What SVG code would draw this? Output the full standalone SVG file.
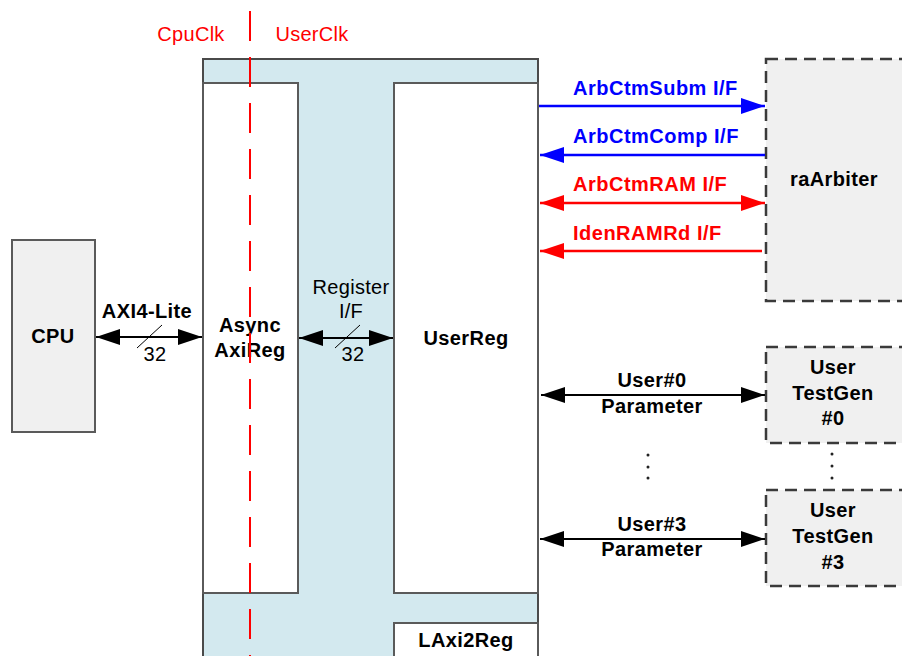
<svg xmlns="http://www.w3.org/2000/svg" width="902" height="656" viewBox="0 0 902 656">
<style>
.box{fill:#ffffff;stroke:#5a5a5a;stroke-width:2}
.gray{fill:#f0f0f0;stroke:#5a5a5a;stroke-width:2}
.dash{fill:#f0f0f0;stroke:#3a3a3a;stroke-width:2.5;stroke-dasharray:12,7}
.lbl{font-family:"Liberation Sans",Arial,sans-serif;font-size:20px;font-weight:bold;fill:#000;text-anchor:middle;letter-spacing:0.4px}
.nl{font-family:"Liberation Sans",Arial,sans-serif;font-size:20px;fill:#000;text-anchor:middle;letter-spacing:0.3px}
.clk{font-family:"Liberation Sans",Arial,sans-serif;font-size:20px;fill:#ff0000;text-anchor:middle;letter-spacing:0.3px}
.blue{font-family:"Liberation Sans",Arial,sans-serif;font-size:20px;font-weight:bold;fill:#0000ff;letter-spacing:0.5px}
.red{font-family:"Liberation Sans",Arial,sans-serif;font-size:20px;font-weight:bold;fill:#ff0000;letter-spacing:0.5px}
.k{stroke:#000;stroke-width:2;fill:none}
.b{stroke:#0000ff;stroke-width:2.5;fill:none}
.r{stroke:#ff0000;stroke-width:2.5;fill:none}
</style>
<defs>
<marker id="ak" viewBox="0 0 24 16" refX="24" refY="8" markerWidth="24" markerHeight="16" markerUnits="userSpaceOnUse" orient="auto-start-reverse"><path d="M0,0 L24,8 L0,16 z" fill="#000"/></marker>
<marker id="ab" viewBox="0 0 24 16" refX="24" refY="8" markerWidth="24" markerHeight="16" markerUnits="userSpaceOnUse" orient="auto-start-reverse"><path d="M0,0 L24,8 L0,16 z" fill="#0000ff"/></marker>
<marker id="ar" viewBox="0 0 24 16" refX="24" refY="8" markerWidth="24" markerHeight="16" markerUnits="userSpaceOnUse" orient="auto-start-reverse"><path d="M0,0 L24,8 L0,16 z" fill="#ff0000"/></marker>
</defs>

<g id="LAxi2Reg">
<rect x="203" y="59" width="335" height="610" fill="#d3e9ef" stroke="#4a4a4a" stroke-width="2"/>
<rect x="394" y="623" width="144" height="50" class="box"/>
<text x="466" y="647" class="lbl">LAxi2Reg</text>
</g>
<g id="AsyncAxiReg">
<rect x="203" y="83" width="95" height="510" class="box"/>
<text x="250" y="332" class="lbl">Async</text>
<text x="250" y="357" class="lbl">AxiReg</text>
</g>
<g id="UserReg">
<rect x="394" y="83" width="144" height="510" class="box"/>
<text x="466" y="345" class="lbl">UserReg</text>
</g>
<g id="CPU">
<rect x="12" y="240" width="83" height="192" class="gray"/>
<text x="53" y="343" class="lbl">CPU</text>
</g>
<g id="raArbiter">
<rect x="766" y="59" width="150" height="242" class="dash"/>
<text x="834" y="186" class="lbl">raArbiter</text>
</g>
<g id="UserTestGen0">
<rect x="766" y="347" width="150" height="96" class="dash"/>
<text x="833" y="374" class="lbl">User</text>
<text x="833" y="400" class="lbl">TestGen</text>
<text x="833" y="425" class="lbl">#0</text>
</g>
<g id="UserTestGen3">
<rect x="766" y="490" width="150" height="96" class="dash"/>
<text x="833" y="517" class="lbl">User</text>
<text x="833" y="543" class="lbl">TestGen</text>
<text x="833" y="569" class="lbl">#3</text>
</g>

<g id="clock">
<line x1="250" y1="11" x2="250" y2="656" stroke="#ff0000" stroke-width="2" stroke-dasharray="30,16"/>
<text x="191" y="41" class="clk">CpuClk</text>
<text x="312" y="41" class="clk">UserClk</text>
</g>

<g id="connectors">
<line x1="96" y1="337" x2="202" y2="337" class="k" marker-start="url(#ak)" marker-end="url(#ak)"/>
<line x1="137" y1="348" x2="162" y2="325" stroke="#000" stroke-width="1"/>
<text x="147" y="318" class="lbl">AXI4-Lite</text>
<text x="155" y="361" class="nl">32</text>

<line x1="299" y1="338" x2="393" y2="338" class="k" marker-start="url(#ak)" marker-end="url(#ak)"/>
<line x1="335" y1="348" x2="360" y2="325" stroke="#000" stroke-width="1"/>
<text x="351" y="294" class="nl">Register</text>
<text x="351" y="318" class="nl">I/F</text>
<text x="353" y="361" class="nl">32</text>

<line x1="539" y1="106" x2="765" y2="106" class="b" marker-end="url(#ab)"/>
<text x="573" y="95" class="blue">ArbCtmSubm I/F</text>
<line x1="765" y1="155" x2="540" y2="155" class="b" marker-end="url(#ab)"/>
<text x="573" y="143" class="blue">ArbCtmComp I/F</text>
<line x1="540" y1="203" x2="765" y2="203" class="r" marker-start="url(#ar)" marker-end="url(#ar)"/>
<text x="573" y="191" class="red">ArbCtmRAM I/F</text>
<line x1="762" y1="251" x2="540" y2="251" class="r" marker-end="url(#ar)"/>
<text x="573" y="240" class="red">IdenRAMRd I/F</text>

<line x1="541" y1="395" x2="765" y2="395" class="k" marker-start="url(#ak)" marker-end="url(#ak)"/>
<text x="652" y="387" class="lbl">User#0</text>
<text x="652" y="413" class="lbl">Parameter</text>
<line x1="540" y1="539" x2="765" y2="539" class="k" marker-start="url(#ak)" marker-end="url(#ak)"/>
<text x="652" y="531" class="lbl">User#3</text>
<text x="652" y="556" class="lbl">Parameter</text>
</g>

<g id="dots" fill="#222">
<circle cx="648" cy="455" r="1.5"/><circle cx="648" cy="467" r="1.5"/><circle cx="648" cy="478" r="1.5"/>
<circle cx="832" cy="454" r="1.5"/><circle cx="832" cy="466" r="1.5"/><circle cx="832" cy="478" r="1.5"/>
</g>
</svg>
